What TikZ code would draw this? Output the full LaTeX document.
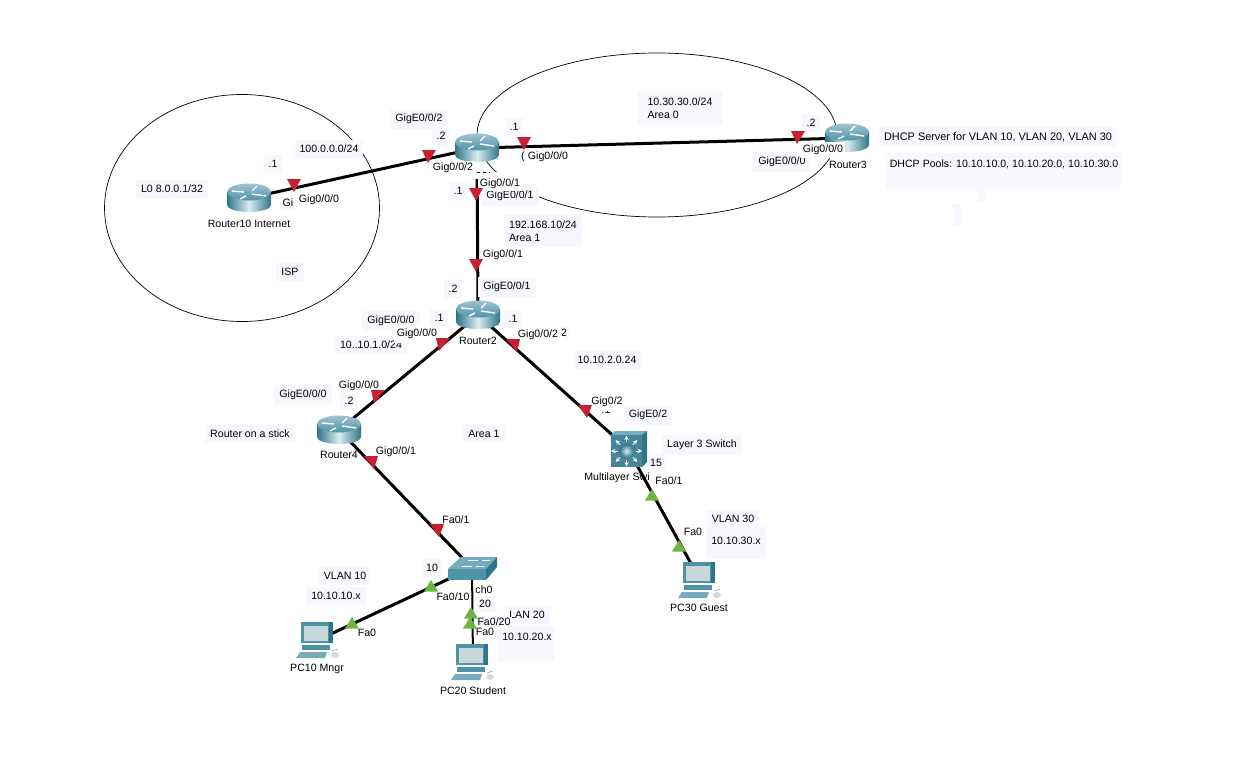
\documentclass[tikz,border=0pt]{standalone}
\usepackage{fontspec}
\setmainfont{Liberation Sans}
\definecolor{teal1}{HTML}{2F7488}
\definecolor{teal2}{HTML}{4F93A9}
\definecolor{teal3}{HTML}{75ABBC}
\definecolor{teal4}{HTML}{D9EDF1}
\definecolor{pale}{HTML}{F7F8FE}
\definecolor{portred}{HTML}{C8202F}
\definecolor{portgreen}{HTML}{6CB63F}
\tikzset{
  router/.pic = {
    \shade [left color = teal1, right color = teal1, middle color = teal4]
      (-22, -6) -- (-22, 7) .. controls (-22, 11) and (-12, 14) .. (0, 14)
      .. controls (12, 14) and (22, 11) .. (22, 7) -- (22, -6) -- cycle;
    \shade [top color = teal3!70!white, bottom color = teal2] (0, -6) ellipse [x radius = 22, y radius = 8.5];
    \draw [white, line width = 1.4pt] (-17, -7) -- (-5, -6) (3, -7) -- (8, -12) (-9, 1) -- (-3, -2) (3, -4) -- (17, -2);
  },
  switchbox/.pic = {
    \fill [teal3] (-24, 1) -- (-11, -11) -- (25, -11) -- (14, 1) -- cycle;
    \fill [teal2] (-24, 1) rectangle (14, 12);
    \fill [teal1] (14, 1) -- (25, -11) -- (25, -1) -- (14, 12) -- cycle;
    \draw [white, line width = 0.7pt] (-10, -2) -- (0, -2) (-4, -8) -- (6, -8) (4, -2) -- (12, -2) (10, -8) -- (18, -8);
  },
  multilayer/.pic = {
    \fill [teal3] (-17, -14) -- (-13, -18) -- (19, -18) -- (14, -14) -- cycle;
    \fill [teal2!90!black] (-17, -14) rectangle (14, 18);
    \fill [teal1] (14, -14) -- (19, -18) -- (19, 13) -- (14, 18) -- cycle;
    \foreach \a in {0, 45, ..., 315}
      \draw [white, line width = 1pt, -stealth] ({-1.5 + 9 * cos(\a)}, {2 + 9 * sin(\a)}) -- ({-1.5 + 15.5 * cos(\a)}, {2 + 15.5 * sin(\a)});
    \shade [inner color = teal4, outer color = teal1] (-1.5, 2) circle [radius = 7];
  },
  computer/.pic = {
    \fill [teal2] (-17, -18) rectangle (15, 3);
    \fill [teal1] (11, -18) rectangle (15, 3);
    \fill [teal4!80!gray] (-14, -14) rectangle (10, 1);
    \fill [teal2] (-16, 5) rectangle (12, 10);
    \fill [teal3] (-22, 18) -- (-18, 12) -- (9, 12) -- (7, 18) -- cycle;
    \fill [white!70!gray] (17, 15) ellipse [x radius = 4, y radius = 3];
    \draw [teal2] (14, 11) -- (20, 9);
  },
  hub/.style = {circle, inner sep = 0pt, minimum size = 1pt},
  link/.style = {black, line width = 3pt},
  thinlink/.style = {black, line width = 2pt},
  zone/.style = {black, line width = 0.7pt},
  note/.style = {fill = pale, inner xsep = 5pt, inner ysep = 5pt},
  port/.style = {fill = white, inner xsep = 2pt, inner ysep = 2pt},
  label/.style = {inner sep = 1pt}
}
\begin{document}
\begin{tikzpicture}[x = 1pt, y = -1pt, font = \fontsize{10.6}{12.5}\selectfont]
  \useasboundingbox (0, 0) rectangle (1236, 760);

  \node [hub] (routerten) at (249, 198){};
  \node [hub] (routerone) at (477, 148){};
  \node [hub] (routerthree) at (847, 138){};
  \node [hub] (routertwo) at (478, 315){};
  \node [hub] (routerfour) at (339, 430){};
  \node [hub] (layerthree) at (628, 449){};
  \node [hub] (accessswitch) at (472, 568){};
  \node [hub] (pcmngr) at (318, 640){};
  \node [hub] (pcstudent) at (473, 662){};
  \node [hub] (pcguest) at (700, 580){};

  \draw [zone] (242, 208) ellipse [x radius = 137.5, y radius = 113.5];
  \draw [zone] (657, 135) ellipse [x radius = 180, y radius = 82];

  \draw [link] (routerten) -- (routerone);
  \draw [link] (routerone) -- (routerthree);
  \draw [link] (routerone) -- (routertwo);
  \draw [link] (routertwo) -- (routerfour);
  \draw [link] (routertwo) -- (layerthree);
  \draw [link] (routerfour) -- (accessswitch);
  \draw [link] (accessswitch) -- (pcmngr);
  \draw [thinlink] (accessswitch) -- (pcstudent);
  \draw [link] (layerthree) -- (pcguest);

  \node [fill = white, inner sep = 0pt, minimum width = 12pt, minimum height = 12pt] (gapone) at (474, 166){};
  \node [fill = white, inner sep = 0pt, minimum width = 47pt, minimum height = 7pt] (gaptwo) at (491, 175.5){};
  \draw [zone, dashed] (477, 172) -- (490, 172);

  \pic at (routerten) {router};
  \pic at (routerone) {router};
  \pic at (routerthree) {router};
  \pic at (routertwo) {router};
  \pic at (routerfour) {router};
  \pic at (layerthree) {multilayer};
  \pic at (accessswitch) {switchbox};
  \pic at (pcmngr) {computer};
  \pic at (pcstudent) {computer};
  \pic at (pcguest) {computer};

  % names under the icons
  \node [label] (nameten) at (249, 224){Router10 Internet};
  \node [label] (namethree) at (848, 165){Router3};
  \node [label] (nametwo) at (478, 341){Router2};
  \node [label] (namefour) at (339, 455){Router4};
  \node [label] (namemulti) at (617, 478){Multilayer Swi};
  \node [label] (nameswitch) at (484, 590){ch0};
  \node [label] (namemngr) at (317, 669){PC10 Mngr};
  \node [label] (namestudent) at (473, 691){PC20 Student};
  \node [label] (nameguest) at (699, 608){PC30 Guest};

  % labels that sit behind other labels
  \node [note, inner sep = 2pt] (hiddengi) at (288, 203){Gi};
  \node [note, inner sep = 2pt] (hiddeng) at (523, 157){(};
  \node [note] (hiddengigone) at (510, 196){GigE0/0/1};
  \node [note] (hiddengigzero) at (391, 321){GigE0/0/0};
  \node [note, inner sep = 2pt] (hiddengigtwo) at (564, 333){2};
  \node [note, inner sep = 2pt] (hiddendot) at (606, 410){.1};
  \node [note] (vlantwenty) at (527, 615){LAN 20};
  \node [note, inner sep = 1pt] (hiddenfa) at (494, 622){Fa0/20};
  \node [note] (leftnet) at (371, 345){10..10.1.0/24};
  \node [note] (gigzero) at (782, 162){GigE0/0/0};

  \node [note] (ispnet) at (329, 149){100.0.0.0/24};
  \node [note] (dotten) at (273, 164){.1};
  \node [note] (loopback) at (172, 189){L0 8.0.0.1/32};
  \node [port, fill = white, inner ysep = 4pt, inner xsep = 4pt] (portten) at (319, 200){Gig0/0/0};
  \node [note] (isp) at (290, 272){ISP};
  \node [note] (gigtwo) at (419, 119){GigE0/0/2};
  \node [note] (dottwo) at (441, 136){.2};
  \node [port] (porttwo) at (453, 168){Gig0/0/2};
  \node [note] (dotone) at (514, 127){.1};
  \node [port, inner xsep = 3pt, inner ysep = 4pt] (portzero) at (548, 157){Gig0/0/0};
  \node [note] (dotdown) at (458, 191){.1};
  \node [port] (portone) at (500, 184){Gig0/0/1};
  \node [note, align = left] (arealink) at (543, 231){192.168.10/24\\[1pt]Area 1};
  \node [note, align = left, minimum width = 86pt, inner ysep = 6pt] (areazero) at (680, 108){10.30.30.0/24\\[1pt]Area 0};
  \node [note] (dotthree) at (811, 123){.2};
  \node [port, inner ysep = 3pt] (portthree) at (823, 150){Gig0/0/0};
  \node [note, font = \fontsize{10.9}{13}\selectfont] (dhcpserver) at (998, 137){DHCP Server for VLAN 10, VLAN 20, VLAN 30};
  \node [note, minimum width = 235pt, minimum height = 36pt, anchor = north west, inner sep = 0pt] (dhcppools) at (886, 153){};
  \node [label] (dhcptext) at (1004, 164){DHCP Pools: 10.10.10.0, 10.10.20.0, 10.10.30.0};
  \node [fill = pale, minimum width = 8pt, minimum height = 14pt, inner sep = 0pt] (patchone) at (981, 196){};
  \node [fill = pale, minimum width = 8pt, minimum height = 22pt, inner sep = 0pt] (patchtwo) at (957, 215){};

  \node [port] (uplink) at (503, 255){Gig0/0/1};
  \node [note] (gigup) at (507, 287){GigE0/0/1};
  \node [note] (dotuptwo) at (453, 289){.2};
  \node [note] (dotleft) at (439, 318){.1};
  \node [note] (dotright) at (513, 319){.1};
  \node [port, inner xsep = 3pt, inner ysep = 4pt] (portleft) at (417, 334){Gig0/0/0};
  \node [port, inner xsep = 4pt] (portright) at (538, 335){Gig0/0/2};
  \node [note] (rightnet) at (607, 360){10.10.2.0.24};
  \node [note] (gigfour) at (303, 395){GigE0/0/0};
  \node [note] (dotfour) at (349, 401){.2};
  \node [port] (portfour) at (359, 386){Gig0/0/0};
  \node [note] (stick) at (250, 434){Router on a stick};
  \node [port] (portdown) at (396, 452){Gig0/0/1};
  \node [note] (areaone) at (484, 434){Area 1};
  \node [port, inner ysep = 4pt] (portmulti) at (607, 402){Gig0/2};
  \node [note] (gigmulti) at (648, 415){GigE0/2};
  \node [note] (layerlabel) at (702, 445){Layer 3 Switch};
  \node [note, inner xsep = 3pt] (fifteen) at (656, 463){15};
  \node [port] (fazeroone) at (669, 481){Fa0/1};
  \node [port] (fazeroguest) at (693, 532){Fa0};
  \node [note] (vlanthirty) at (733, 519){VLAN 30};
  \node [note, inner ysep = 10pt] (netthirty) at (736, 543){\raisebox{5pt}{10.10.30.x}};
  \node [port] (faone) at (456, 520){Fa0/1};
  \node [note, inner xsep = 4pt] (ten) at (432, 568){10};
  \node [note] (vlanten) at (345, 576){VLAN 10};
  \node [note] (netten) at (336, 596){10.10.10.x};
  \node [port, inner xsep = 1pt] (faten) at (453, 597){Fa0/10};
  \node [note, inner xsep = 4pt, inner ysep = 4pt] (twenty) at (485, 604){20};
  \node [port] (fazero) at (367, 633){Fa0};
  \node [port, inner xsep = 1pt] (fastudent) at (485, 632){Fa0};
  \node [note, minimum width = 58pt, minimum height = 35pt, inner sep = 0pt, anchor = north west] (nettwenty) at (497, 626){};
  \node [label] (nettwentytext) at (527, 637){10.10.20.x};

  \foreach \x/\y/\lean in {294/185/0, 429/156/-1, 524/143/0, 798/137/-1, 476/194/0, 476/265/0,
      443/344/-4, 378/396/-4, 513/345/4, 585/411/2, 371/462/3, 437/530/2}
    \fill [portred] (\x - 7, \y - 6) -- (\x + 7, \y - 6) -- (\x + \lean, \y + 7) -- cycle;
  \foreach \x/\y in {431/586, 352/623, 471/613, 470/623, 652/495, 679/546}
    \fill [portgreen] (\x - 7, \y + 5.5) -- (\x + 7, \y + 5.5) -- (\x, \y - 6) -- cycle;
\end{tikzpicture}
\end{document}
